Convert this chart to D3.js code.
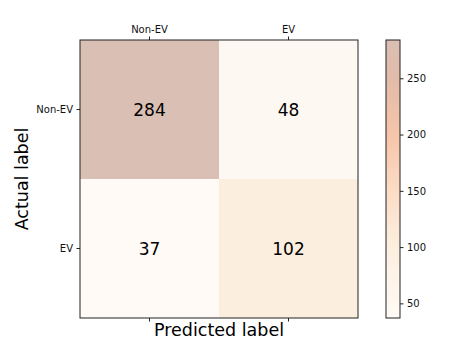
<!DOCTYPE html>
<html><head><meta charset="utf-8">
<script src="https://cdn.jsdelivr.net/npm/d3@7"></script>
<style>body{margin:0;background:#fff;} svg{display:block;font-family:"DejaVu Sans",sans-serif;}</style>
</head><body><svg id="c" width="449" height="345"></svg>
<script>
const labels = ["Non-EV", "EV"];
const matrix = [[284, 48], [37, 102]];
const cbTicks = [50, 100, 150, 200, 250];
const colorStops = [37, 100, 150, 200, 250, 284];
const colorRange = ["#fffaf6", "#fcefdf", "#fcdcc5", "#f5c5a9", "#e2bba9", "#dabfb4"];

const svg = d3.select("#c");
const L = 80, T = 40, W = 278, H = 278;
const x = d3.scaleBand().domain(labels).range([L, L + W]);
const y = d3.scaleBand().domain(labels).range([T, T + H]);
const vmin = d3.min(matrix.flat()), vmax = d3.max(matrix.flat());
const color = d3.scaleLinear().domain(colorStops).range(colorRange).clamp(true);

const cells = [];
matrix.forEach((row, i) => row.forEach((v, j) => cells.push({r: labels[i], c: labels[j], v})));

svg.selectAll("rect.cell").data(cells).join("rect")
  .attr("x", d => x(d.c)).attr("y", d => y(d.r))
  .attr("width", x.bandwidth()).attr("height", y.bandwidth())
  .attr("fill", d => color(d.v));
svg.selectAll("text.val").data(cells).join("text")
  .attr("x", d => x(d.c) + x.bandwidth() / 2).attr("y", d => y(d.r) + y.bandwidth() / 2)
  .attr("text-anchor", "middle").attr("dominant-baseline", "central")
  .attr("font-size", 17).attr("fill", "#000").text(d => d.v);

svg.append("rect").attr("x", L).attr("y", T).attr("width", W).attr("height", H)
  .attr("fill", "none").attr("stroke", "#222").attr("stroke-width", 1);

function styleAxis(g) {
  g.select(".domain").remove();
  g.selectAll(".tick line").attr("stroke", "#222");
  g.selectAll(".tick text").attr("font-size", 10).attr("fill", "#111").attr("font-family", "DejaVu Sans");
}
svg.append("g").attr("transform", `translate(0,${T})`)
  .call(d3.axisTop(x).tickSize(3.5).tickPadding(3.5)).call(styleAxis);
svg.append("g").attr("transform", `translate(0,${T + H})`)
  .call(d3.axisBottom(x).tickSize(3.5).tickFormat("")).call(styleAxis);
svg.append("g").attr("transform", `translate(${L},0)`)
  .call(d3.axisLeft(y).tickSize(3.5).tickPadding(3.5)).call(styleAxis);

svg.append("text").attr("x", L + W / 2).attr("y", 336).attr("text-anchor", "middle")
  .attr("font-size", 17.5).attr("fill", "#000").text("Predicted label");
svg.append("text").attr("transform", `translate(28,${T + H / 2}) rotate(-90)`)
  .attr("text-anchor", "middle").attr("font-size", 17.5).attr("fill", "#000").text("Actual label");

// colorbar
const CX = 386, CW = 14;
const cy = d3.scaleLinear().domain([vmin, vmax]).range([T + H, T]);
const defs = svg.append("defs");
const grad = defs.append("linearGradient").attr("id", "cg").attr("x1", 0).attr("y1", 1).attr("x2", 0).attr("y2", 0);
d3.range(0, 1.0001, 0.05).forEach(t => {
  const v = vmin + t * (vmax - vmin);
  grad.append("stop").attr("offset", t).attr("stop-color", color(v));
});
svg.append("rect").attr("x", CX).attr("y", T).attr("width", CW).attr("height", H)
  .attr("fill", "url(#cg)").attr("stroke", "#222").attr("stroke-width", 1);
svg.append("g").attr("transform", `translate(${CX + CW},0)`)
  .call(d3.axisRight(cy).tickValues(cbTicks).tickSize(3.5).tickPadding(3.5)).call(styleAxis);
</script></body></html>
